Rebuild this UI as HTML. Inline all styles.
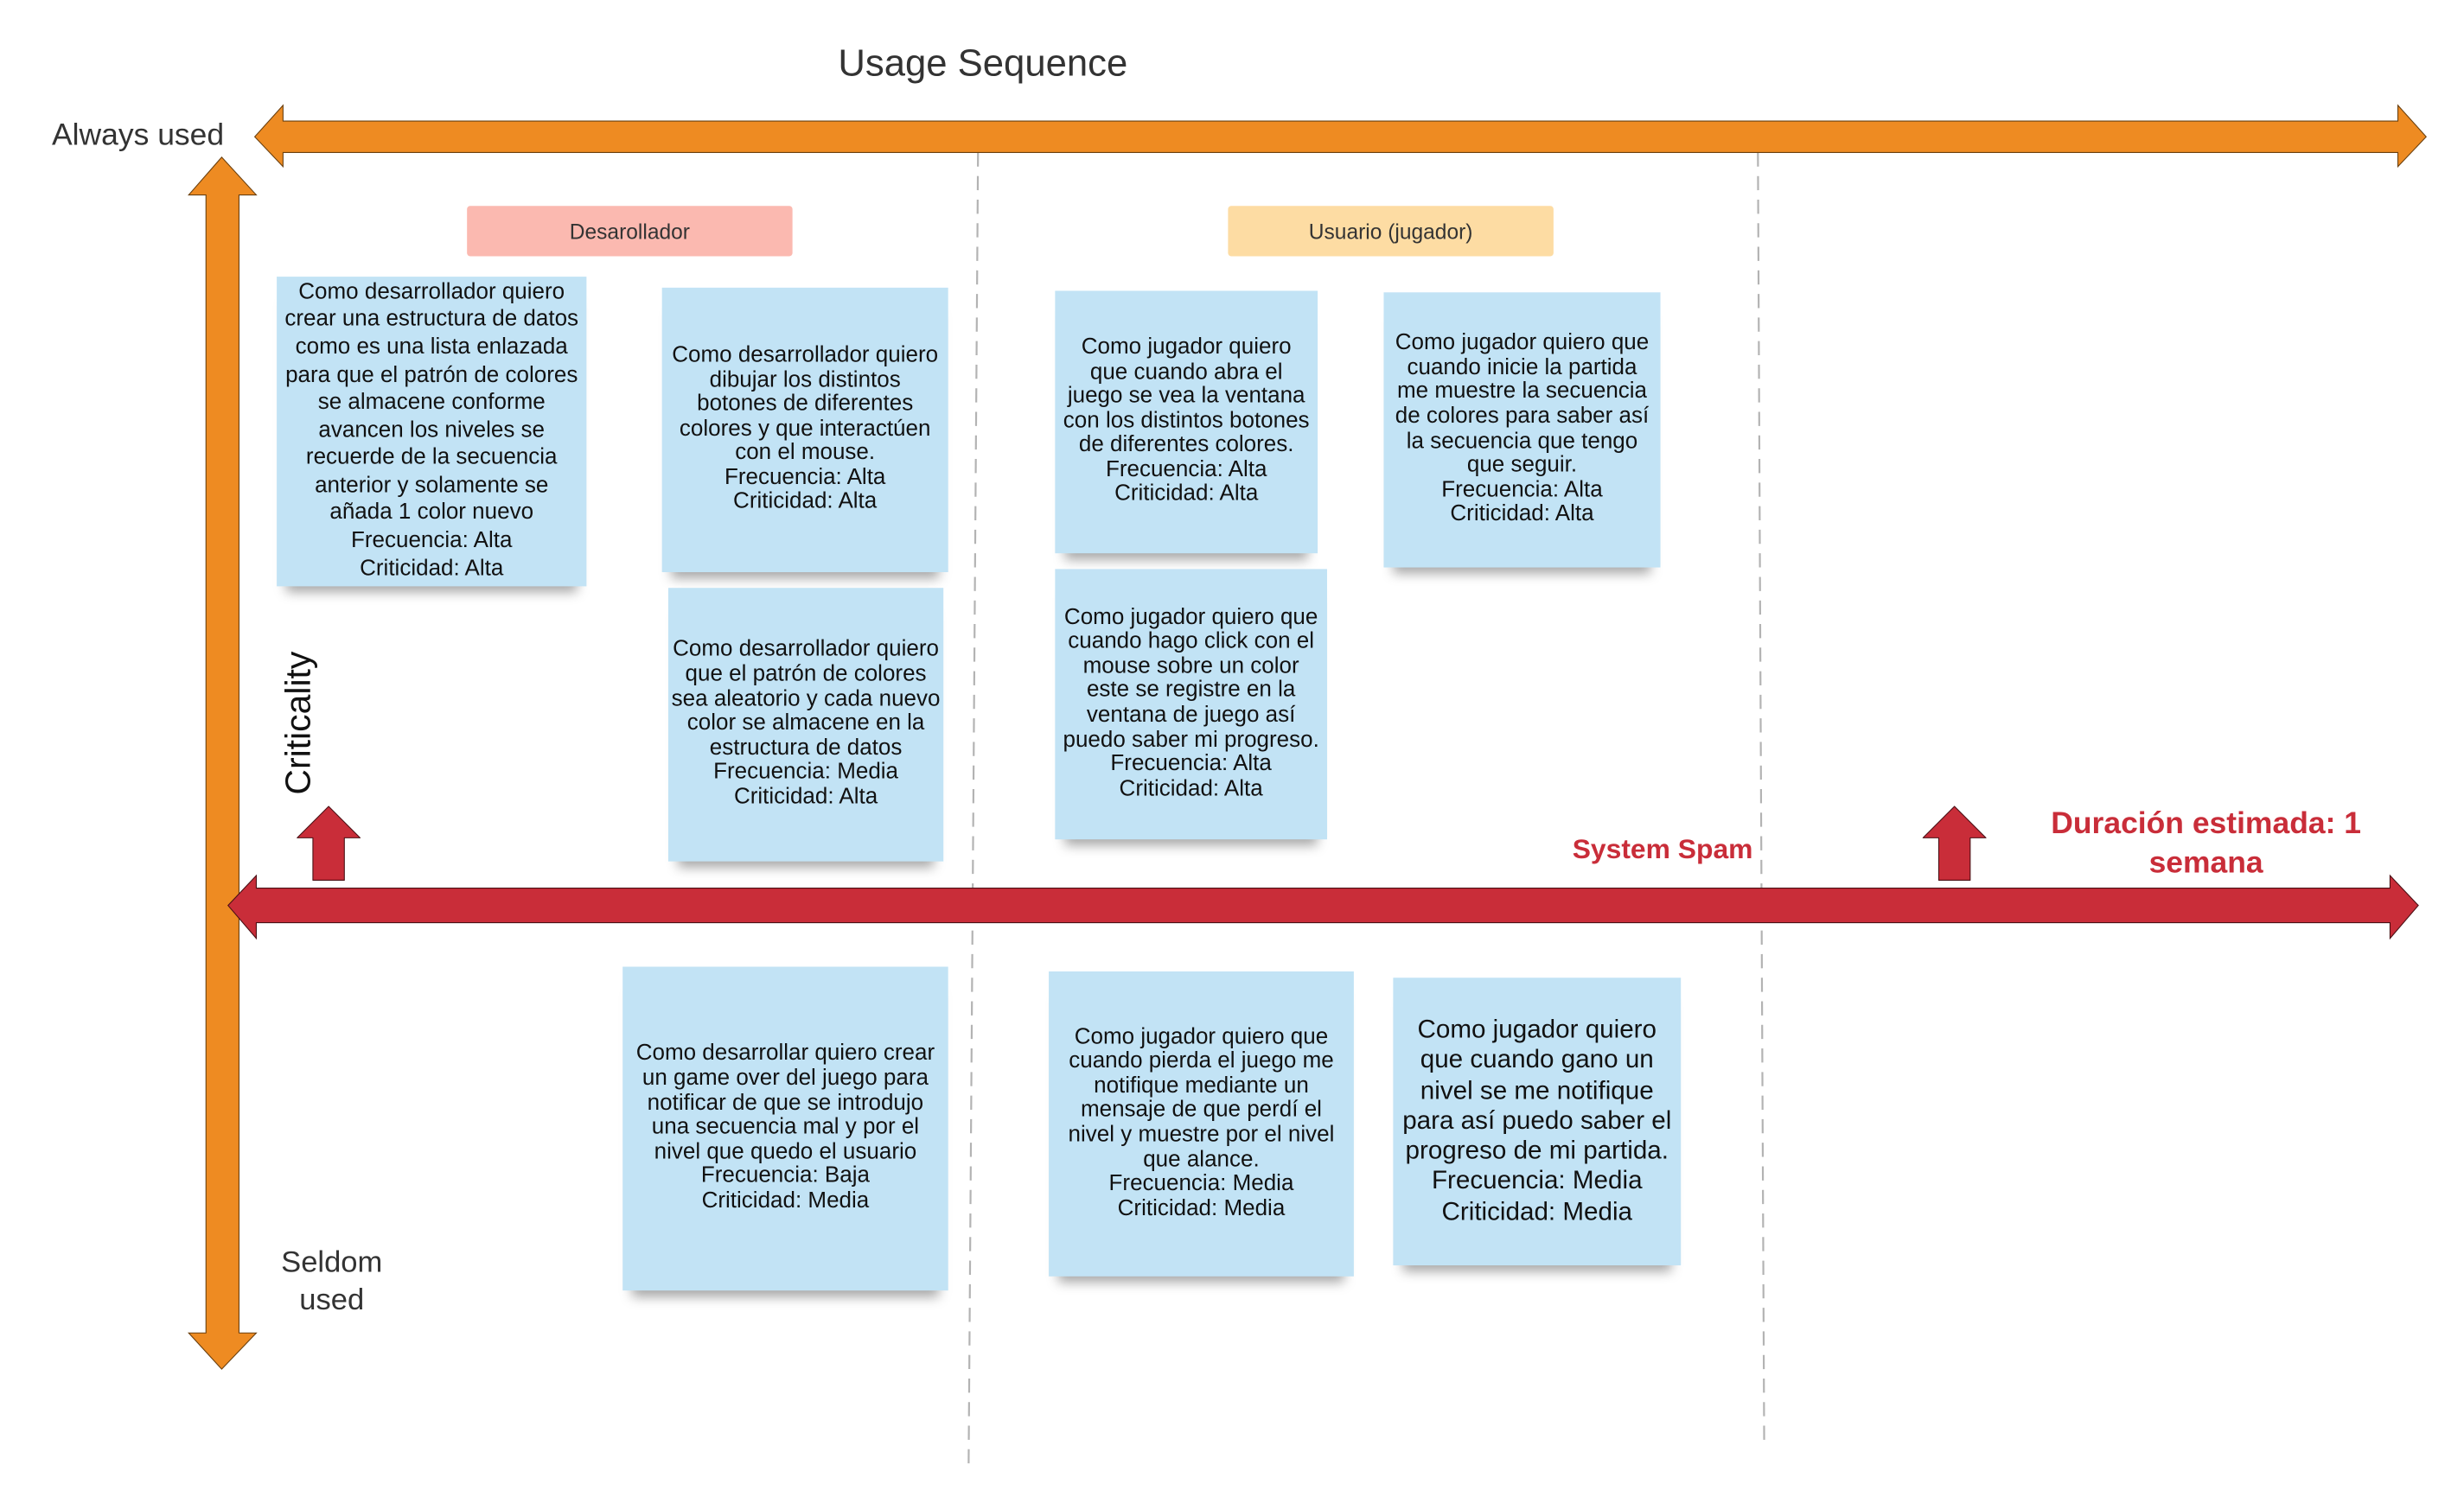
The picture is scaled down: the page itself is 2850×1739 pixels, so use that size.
<!DOCTYPE html>
<html><head><meta charset="utf-8"><style>
html,body{margin:0;padding:0;background:#fff;width:2850px;height:1738px;overflow:hidden}
#w{position:absolute;left:0;top:0;width:1567px;height:956px;transform:scale(1.8187);transform-origin:0 0;font-family:"Liberation Sans",sans-serif}
.s{position:absolute;box-sizing:border-box;background:#c2e3f5;display:flex;align-items:center;justify-content:center;text-align:center;color:#111;font-size:14.3px;line-height:15.6px;white-space:nowrap;box-shadow:0 10px 7px -6px rgba(0,0,0,0.35)}
.t{position:absolute;color:#333}
.h{position:absolute;display:flex;align-items:center;justify-content:center;font-size:13.5px;color:#333;border-radius:2px}
</style></head><body><div id="w">
<svg width="1567" height="956" style="position:absolute;left:0;top:0">
<line x1="622" y1="97" x2="616" y2="935" stroke="#b3b3b3" stroke-width="1.2" stroke-dasharray="9,6"/>
<line x1="1118" y1="97" x2="1122" y2="922" stroke="#b3b3b3" stroke-width="1.2" stroke-dasharray="9,6"/>
<polygon points="162,87 180,67 180,77 1525,77 1525,67 1543,87 1525,106 1525,97 180,97 180,106" fill="#ee8b22" stroke="#6a4010" stroke-width="0.6"/>
<polygon points="141,100 163,124 152,124 152,848 163,848 141,871 120,848 131,848 131,124 120,124" fill="#ee8b22" stroke="#6a4010" stroke-width="0.6"/>
<polygon points="145,576 163,557 163,565 1520,565 1520,557 1538,576 1520,597 1520,587 163,587 163,597" fill="#c92d39" stroke="#4a1015" stroke-width="0.6"/>
<polygon points="209,513 229,533 219,533 219,560 199,560 199,533 189,533" fill="#c92d39" stroke="#4a1015" stroke-width="0.6" stroke-linejoin="round"/>
<polygon points="1243,513 1263,533 1253,533 1253,560 1233,560 1233,533 1223,533" fill="#c92d39" stroke="#4a1015" stroke-width="0.6" stroke-linejoin="round"/>
</svg>
<div class="t" style="left:533px;top:27px;font-size:24px">Usage Sequence</div>
<div class="t" style="left:33px;top:75px;font-size:19.5px">Always used</div>
<div class="t" style="left:168px;top:792px;width:86px;text-align:center;font-size:19px;line-height:24px">Seldom used</div>
<div class="t" style="left:190px;top:460px;font-size:22.5px;transform:translate(-50%,-50%) rotate(-90deg);white-space:nowrap;color:#111">Criticality</div>
<div class="t" style="left:1000px;top:530px;font-size:17.5px;font-weight:bold;color:#c92d39">System Spam</div>
<div class="t" style="left:1283px;top:512px;width:240px;text-align:center;font-size:19.5px;line-height:25px;font-weight:bold;color:#c92d39">Duración estimada: 1 semana</div>
<div class="h" style="left:297px;top:131px;width:207px;height:32px;background:#fbb9b0">Desarollador</div>
<div class="h" style="left:781px;top:131px;width:207px;height:32px;background:#fddca3">Usuario (jugador)</div>
<div class="s" style="left:176px;top:176px;width:197px;height:197px;line-height:17.6px">Como desarrollador quiero<br>crear una estructura de datos<br>como es una lista enlazada<br>para que el patrón de colores<br>se almacene conforme<br>avancen los niveles se<br>recuerde de la secuencia<br>anterior y solamente se<br>añada 1 color nuevo<br>Frecuencia: Alta<br>Criticidad: Alta</div>
<div class="s" style="left:421px;top:183px;width:182px;height:181px">Como desarrollador quiero<br>dibujar los distintos<br>botones de diferentes<br>colores y que interactúen<br>con el mouse.<br>Frecuencia: Alta<br>Criticidad: Alta</div>
<div class="s" style="left:425px;top:374px;width:175px;height:174px">Como desarrollador quiero<br>que el patrón de colores<br>sea aleatorio y cada nuevo<br>color se almacene en la<br>estructura de datos<br>Frecuencia: Media<br>Criticidad: Alta</div>
<div class="s" style="left:671px;top:185px;width:167px;height:167px">Como jugador quiero<br>que cuando abra el<br>juego se vea la ventana<br>con los distintos botones<br>de diferentes colores.<br>Frecuencia: Alta<br>Criticidad: Alta</div>
<div class="s" style="left:880px;top:186px;width:176px;height:175px">Como jugador quiero que<br>cuando inicie la partida<br>me muestre la secuencia<br>de colores para saber así<br>la secuencia que tengo<br>que seguir.<br>Frecuencia: Alta<br>Criticidad: Alta</div>
<div class="s" style="left:671px;top:362px;width:173px;height:172px">Como jugador quiero que<br>cuando hago click con el<br>mouse sobre un color<br>este se registre en la<br>ventana de juego así<br>puedo saber mi progreso.<br>Frecuencia: Alta<br>Criticidad: Alta</div>
<div class="s" style="left:396px;top:615px;width:207px;height:206px">Como desarrollar quiero crear<br>un game over del juego para<br>notificar de que se introdujo<br>una secuencia mal y por el<br>nivel que quedo el usuario<br>Frecuencia: Baja<br>Criticidad: Media</div>
<div class="s" style="left:667px;top:618px;width:194px;height:194px">Como jugador quiero que<br>cuando pierda el juego me<br>notifique mediante un<br>mensaje de que perdí el<br>nivel y muestre por el nivel<br>que alance.<br>Frecuencia: Media<br>Criticidad: Media</div>
<div class="s" style="left:886px;top:622px;width:183px;height:183px;font-size:16.3px;line-height:19.3px">Como jugador quiero<br>que cuando gano un<br>nivel se me notifique<br>para así puedo saber el<br>progreso de mi partida.<br>Frecuencia: Media<br>Criticidad: Media</div>
</div></body></html>
